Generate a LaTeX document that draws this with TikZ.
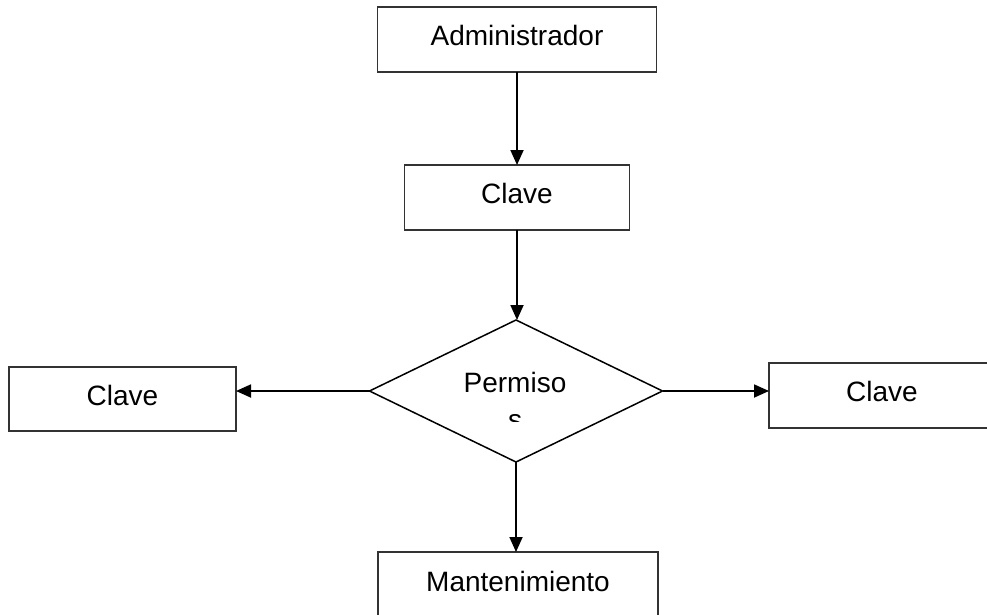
\documentclass[tikz,border=0pt]{standalone}
\usepackage{fontspec}
\setmainfont{Liberation Sans}
\usetikzlibrary{arrows.meta,shapes.geometric}
\begin{document}
\begin{tikzpicture}[x=1pt,y=-1pt,
  box/.style={draw=black!80,line width=1.3pt,rectangle,inner sep=0pt,outer sep=0pt,
    text depth=8pt,font=\fontsize{28}{37}\selectfont},
  lbl/.style={font=\fontsize{28}{37}\selectfont,inner sep=0pt},
  conn/.style={line width=1.8pt,-{Triangle[length=15pt,width=13pt]}}]
\clip (0,0) rectangle (987,615);
\fill[white] (0,0) rectangle (987,615);
\node[box,minimum width=279pt,minimum height=65pt] (admin) at (517,39.5) {Administrador};
\node[box,minimum width=225pt,minimum height=65pt] (clave1) at (517,197.5) {Clave};
\node[draw=black,line width=1.5pt,diamond,inner sep=0pt,outer sep=0pt,
  minimum width=293pt,minimum height=142pt] (perm) at (516,391) {};
\node[box,minimum width=227pt,minimum height=64pt] (claveL) at (122.5,399) {Clave};
\node[box,minimum width=226pt,minimum height=65pt] (claveR) at (882,395.5) {Clave};
\node[box,minimum width=280pt,minimum height=66pt] (mant) at (518,585) {Mantenimiento};
\begin{scope}
  \clip (300,300) rectangle (700,421);
  \node[lbl,anchor=base] (ptext) at (515,392) {Permiso};
  \node[lbl,anchor=base] (stext) at (515,429) {s};
\end{scope}
\draw[conn] (admin.south) -- (clave1.north);
\draw[conn] (clave1.south) -- (clave1.south |- perm.north);
\draw[conn] (perm.west) -- (perm.west -| claveL.east);
\draw[conn] (perm.east) -- (perm.east -| claveR.west);
\draw[conn] (perm.south) -- (perm.south |- mant.north);
\end{tikzpicture}
\end{document}
